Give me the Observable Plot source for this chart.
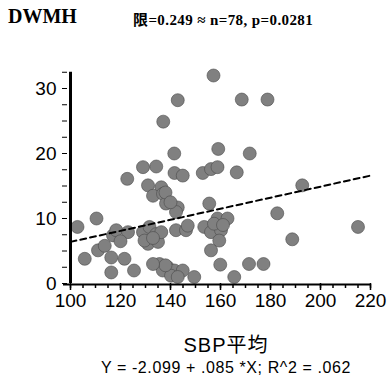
<!DOCTYPE html>
<html><head><meta charset="utf-8">
<script src="https://cdn.jsdelivr.net/npm/d3@7"></script>
<script src="https://cdn.jsdelivr.net/npm/@observablehq/plot@0.6"></script>
<style>
body{margin:0;background:#fff;}
#wrap{position:relative;width:392px;height:383px;overflow:hidden;}
.t{position:absolute;white-space:nowrap;color:#000;}
</style></head><body>
<div id="wrap">
<div class="t" style="left:8px;top:5px;font:bold 20px 'Liberation Serif',serif;">DWMH</div>
<div class="t" style="left:133px;top:8px;font:bold 15px 'Liberation Serif','Noto Sans CJK JP',serif;letter-spacing:0.4px;">限=0.249 ≈ n=78, p=0.0281</div>
<div class="t" id="xl" style="left:0;width:452px;text-align:center;top:334px;line-height:22px;font-size:20px;font-family:'Liberation Sans','Noto Sans CJK JP',sans-serif;letter-spacing:1px;">SBP平均</div>
<div class="t" id="eq" style="left:0;width:452px;text-align:center;top:359px;line-height:18px;font-size:16px;font-family:'Liberation Sans',sans-serif;letter-spacing:0.6px;">Y = -2.099 + .085 *X; R^2 = .062</div>
</div>
<script>
const sbp = [157.2,142.9,168.5,178.8,137.1,141.5,159.1,171.7,129,134.3,122.7,141.6,144.9,152.9,156.2,158.8,166.5,131,136.3,133,137,138.2,142.9,142.2,155.5,192.7,182.7,215,188.7,110.4,102.8,105.7,111,113.7,117,118.3,123,116.3,116.3,121.6,125.4,129,131.6,134.3,131,135,136.3,129.6,142.2,146.2,146.9,153.5,156.2,158.8,162.8,160.2,159.5,156.2,157.4,159.9,165.5,171.4,177.2,149.5,135.6,138.9,141.6,144.9,136.9,140.2,142.9,120,133,138,140,161,138,133];
const dwmh = [32,28.2,28.3,28.3,24.9,20,20.7,20,17.9,18,16.1,17,16.6,17,17.6,17.9,17.1,15.1,14.8,13.5,13.8,12.3,11.7,11,12.3,15.1,10.8,8.7,6.8,10,8.7,3.8,5.1,5.8,7.4,8.2,7.9,4,1.7,3.8,2,7.9,8.7,7.6,6.1,6.4,7.9,6.6,8.2,8.2,8.9,8.7,7.9,10,10,8.2,6.6,5.1,9.2,2.9,1,3,3,1,3,2.5,2,2,2,1.2,1,6.5,7,14,12.5,9,2.8,3];
const xTickLabels = [100,120,140,160,180,200,220];
const yTickLabels = [0,10,20,30];
const intercept = -2.099, slope = 0.085;
const fitX = [100, 220];

const points = sbp.map((x,i)=>({x, y: dwmh[i]}));
const fit = fitX.map(x=>({x, y: intercept + slope*x}));

const chart = Plot.plot({
  width: 392, height: 383,
  marginLeft: 70, marginRight: 22, marginTop: 71.75, marginBottom: 100,
  x: {domain: [100,220], label: null},
  y: {domain: [0,32.5], label: null},
  style: {fontFamily: "'Liberation Sans', sans-serif", background: "transparent"},
  marks: [
    Plot.axisY({ticks: d3.range(0, 32.6, 2.5), tickSize: 5, text: null, dx: -3, strokeWidth: 1, label: null}),
    Plot.axisY({ticks: yTickLabels, tickSize: 0, tickPadding: 14, fontSize: 19, label: null}),
    Plot.axisX({ticks: d3.range(100, 221, 5), tickSize: 4, text: null, strokeWidth: 1.5, dy: 1, label: null}),
    Plot.axisX({ticks: xTickLabels, tickSize: 7, tickPadding: 3, fontSize: 19, strokeWidth: 1.5, label: null}),
    Plot.dot(points, {x: "x", y: "y", r: 6.5, fill: "#808080", stroke: "#4a4a4a", strokeWidth: 0.6}),
    Plot.line(fit, {x: "x", y: "y", stroke: "#000", strokeWidth: 2, strokeDasharray: "6,4"}),
    Plot.ruleX([100], {y1: 0, y2: 32.5, strokeWidth: 3}),
    Plot.ruleY([0], {x1: 97.2, x2: 220, strokeWidth: 2, dy: 1})
  ]
});
document.getElementById("wrap").prepend(chart);
chart.style.position = "absolute"; chart.style.left = "0"; chart.style.top = "0";
</script>
</body></html>
